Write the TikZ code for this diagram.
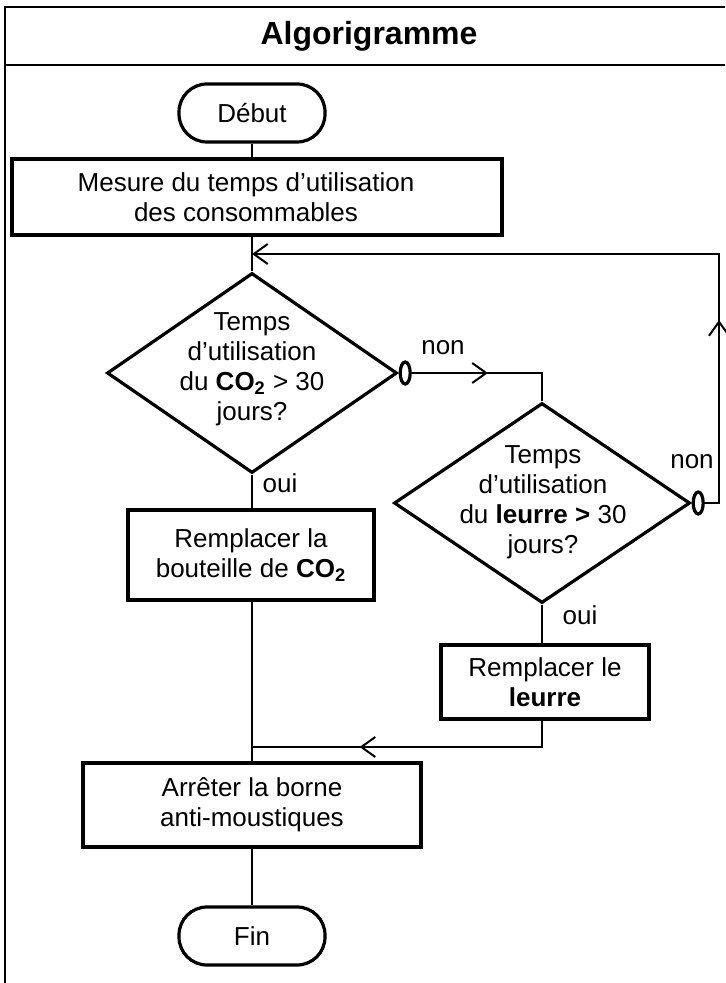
\documentclass[tikz,border=0pt]{standalone}
\usepackage{fontspec}
\setmainfont{Liberation Sans}
\usetikzlibrary{positioning,shapes.geometric,arrows.meta,decorations.markings}
\begin{document}
\begin{tikzpicture}[x=0.5pt,y=-0.5pt,line width=1pt,font=\fontsize{13}{15}\selectfont,
 bloc/.style={draw,line width=1.6pt,align=center,inner sep=0pt},
 terminal/.style={bloc,rounded corners=14pt,minimum width=73pt,minimum height=29pt},
 test/.style={draw,diamond,line width=1.6pt,inner sep=0pt},
 pastille/.style={draw,ellipse,line width=1.6pt,minimum width=5pt,minimum height=11pt,inner sep=0pt},
 pointe/.style={-{Straight Barb[length=7pt,width=10pt]}},
 fleche/.style={postaction={decorate},decoration={markings,
   mark=at position #1 with {\arrow{Straight Barb[length=7pt,width=10pt]}}}}]
\useasboundingbox (0,0) rectangle (725,983);
%Cadre
\draw (5,983)--(5,7)--(725,7);
\draw (5,65)--(725,65);
\node[font=\bfseries\fontsize{16}{18}\selectfont] (titre) at (369,36) {Algorigramme};
%Blocs
\node[terminal] (debut) at (252,113) {Début};
\node[bloc,minimum width=245pt,minimum height=38pt] (mesure) at (257,197) {Mesure du temps d’utilisation\hspace*{11pt}\\des consommables\hspace*{11pt}};
\node[test,minimum width=145pt,minimum height=100pt] (test1) at (252,373) {};
\node[align=center] (q1) at (252,369) {Temps\\d’utilisation\\du \textbf{CO\textsubscript{2}} > 30\\jours?};
\node[pastille,right=0pt of test1] (oval1) {};
\node[bloc,minimum width=123pt,minimum height=45pt] (remp1) at (251,555) {Remplacer la\\bouteille de \textbf{CO\textsubscript{2}}};
\node[test,minimum width=148pt,minimum height=100pt] (test2) at (542,503) {};
\node[align=center] (q2) at (543,502) {Temps\\d’utilisation\\du \textbf{leurre >} 30\\jours?};
\node[pastille,right=0pt of test2] (oval2) {};
\node[bloc,minimum width=104pt,minimum height=37pt] (remp2) at (545,682) {Remplacer le\\\textbf{leurre}};
\node[bloc,minimum width=169pt,minimum height=42pt] (arret) at (252,805) {Arrêter la borne\\anti-moustiques};
\node[terminal] (fin) at (252,936) {Fin};
%Beschriftung
\node (non1) at (443,348) {non};
\node (non2) at (692,462) {non};
\node (oui1) at (280,483) {oui};
\node (oui2) at (580,615) {oui};
%Liaisons
\coordinate (retour) at (252,254);
\coordinate (coin) at (719,254);
\coordinate (jonction) at (252,747);
\draw (debut)--(mesure.north -| debut);
\draw (mesure.south -| test1)--(test1.north);
\draw[pointe,fleche=0.27] (oval2.east)-|(coin)--(retour);
\draw[fleche=0.48] (oval1.east)--(oval1.east -| test2.north)--(test2.north);
\draw (test1.south)--(test1.south |- remp1.north);
\draw (remp1.south -| test1)--(arret.north -| test1);
\draw (test2.south)--(test2.south |- remp2.north);
\draw[fleche=0.66] (remp2.south -| test2)|-(jonction);
\draw (arret.south -| test1)--(fin.north -| test1);
\end{tikzpicture}
\end{document}
